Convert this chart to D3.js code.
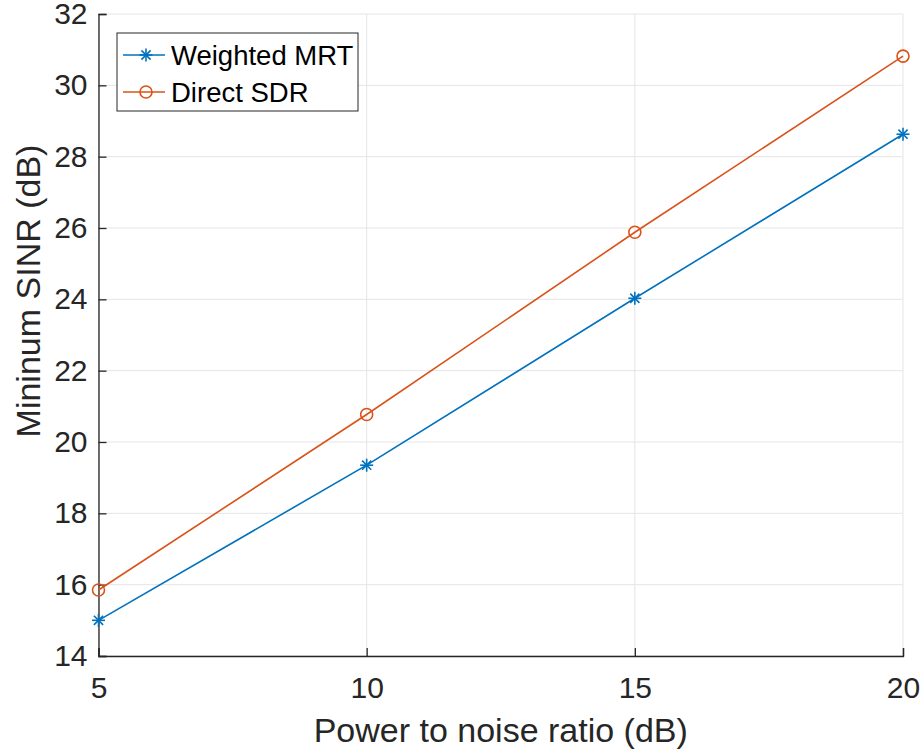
<!DOCTYPE html>
<html>
<head>
<meta charset="utf-8">
<script src="https://cdn.jsdelivr.net/npm/d3@7"></script>
<style>
  body { margin: 0; background: #fff; }
  text { font-family: "Liberation Sans", Arial, sans-serif; }
</style>
</head>
<body>
<div id="chart"></div>
<script>
// values
var pnr = [5, 10, 15, 20];
var mrt = [15.0, 19.35, 24.03, 28.63];
var sdr = [15.85, 20.77, 25.88, 30.82];
var xTicks = [5, 10, 15, 20];
var yTicks = [14, 16, 18, 20, 22, 24, 26, 28, 30, 32];
var seriesNames = ["Weighted MRT", "Direct SDR"];
var seriesColors = ["#0072BD", "#D95319"];

var W = 924, H = 752;
var m = {left: 98.5, right: 21, top: 14, bottom: 96};

var svg = d3.select("#chart").append("svg")
  .attr("width", W).attr("height", H);

var x = d3.scaleLinear().domain([5, 20]).range([m.left, W - m.right]);
var y = d3.scaleLinear().domain([14, 32]).range([H - m.bottom, m.top]);

// grid
var grid = svg.append("g").attr("stroke", "#e5e5e5").attr("stroke-width", 1);
grid.selectAll("line.gx").data(xTicks).enter().append("line")
  .attr("x1", function(d) { return x(d); }).attr("x2", function(d) { return x(d); })
  .attr("y1", y(14)).attr("y2", y(32));
grid.selectAll("line.gy").data(yTicks).enter().append("line")
  .attr("x1", x(5)).attr("x2", x(20))
  .attr("y1", function(d) { return y(d); }).attr("y2", function(d) { return y(d); });

// axes
var xAxis = svg.append("g").attr("transform", "translate(0," + y(14) + ")")
  .call(d3.axisBottom(x).tickValues(xTicks).tickSize(-8).tickPadding(21));
var yAxis = svg.append("g").attr("transform", "translate(" + x(5) + ",0)")
  .call(d3.axisLeft(y).tickValues(yTicks).tickSize(-8).tickPadding(11));
[xAxis, yAxis].forEach(function(a) {
  a.select(".domain").attr("stroke", "#262626").attr("stroke-width", 1.3);
  a.selectAll(".tick line").attr("stroke", "#262626").attr("stroke-width", 1.3);
  a.selectAll(".tick text").attr("fill", "#262626")
    .style("font-size", "30px");
});

svg.append("text")
  .attr("x", x(12.5)).attr("y", 742)
  .attr("text-anchor", "middle").attr("fill", "#262626")
  .style("font-size", "34px").text("Power to noise ratio (dB)");
svg.append("text")
  .attr("transform", "translate(40,291) rotate(-90)")
  .attr("text-anchor", "middle").attr("fill", "#262626")
  .style("font-size", "34px").text("Mininum SINR (dB)");

var line = d3.line()
  .x(function(d, i) { return x(pnr[i]); })
  .y(function(d) { return y(d); });

function starMarker(g, cx, cy, color) {
  var r = 6.5;
  [0, 45, 90, 135].forEach(function(a) {
    var rad = a * Math.PI / 180;
    g.append("line")
      .attr("x1", cx - r * Math.cos(rad)).attr("y1", cy - r * Math.sin(rad))
      .attr("x2", cx + r * Math.cos(rad)).attr("y2", cy + r * Math.sin(rad))
      .attr("stroke", color).attr("stroke-width", 1.6);
  });
}
function circleMarker(g, cx, cy, color) {
  g.append("circle").attr("cx", cx).attr("cy", cy).attr("r", 6)
    .attr("fill", "none").attr("stroke", color).attr("stroke-width", 1.6);
}

var plot = svg.append("g");
[mrt, sdr].forEach(function(s, k) {
  plot.append("path").datum(s).attr("d", line)
    .attr("fill", "none").attr("stroke", seriesColors[k]).attr("stroke-width", 1.6);
  s.forEach(function(v, i) {
    if (k === 0) starMarker(plot, x(pnr[i]), y(v), seriesColors[k]);
    else circleMarker(plot, x(pnr[i]), y(v), seriesColors[k]);
  });
});

// legend
var lg = svg.append("g").attr("transform", "translate(117,33)");
lg.append("rect").attr("width", 241).attr("height", 78)
  .attr("fill", "#fff").attr("stroke", "#262626").attr("stroke-width", 1);
seriesNames.forEach(function(n, k) {
  var ly = 22 + k * 37;
  lg.append("line").attr("x1", 6).attr("x2", 48).attr("y1", ly).attr("y2", ly)
    .attr("stroke", seriesColors[k]).attr("stroke-width", 1.6);
  if (k === 0) starMarker(lg, 29, ly, seriesColors[k]);
  else circleMarker(lg, 29, ly, seriesColors[k]);
  lg.append("text").attr("x", 54).attr("y", ly + 10)
    .attr("fill", "#000").style("font-size", "27.5px").text(n);
});
</script>
</body>
</html>
